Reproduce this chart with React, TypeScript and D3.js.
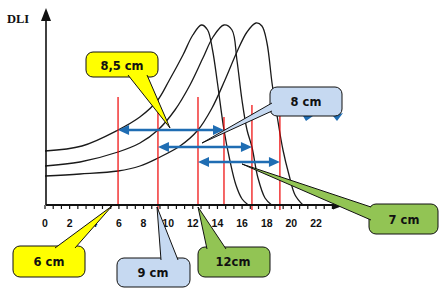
import React from "react";
import * as d3 from "d3";

// ---- data (x in cm, y in DLI units) ----
const xTickLabels = [0, 2, 4, 6, 8, 10, 12, 14, 16, 18, 20, 22];
const curveA: [number, number][] = [[0, 10.8], [3, 11.8], [5.93, 15], [7.7, 17.6], [9.1, 20.8], [10.1, 25], [11.2, 30], [12, 34], [12.7, 36], [13.2, 35], [13.6, 31], [14, 24.4], [14.53, 15], [15, 9], [15.5, 4], [16, 1.2], [16.5, 0]];
const curveB: [number, number][] = [[0, 7.8], [2.84, 8.6], [5.93, 10.6], [7.71, 12.4], [9.17, 15], [10.55, 19], [11.77, 24], [12.82, 29.4], [13.64, 33.6], [14.53, 36], [15.18, 35], [15.58, 29], [15.99, 21], [16.4, 15], [16.8, 11.6], [17.29, 5.4], [17.86, 1.4], [18.4, 0]];
const curveC: [number, number][] = [[0, 5.8], [2.84, 6.2], [5.93, 6.8], [7.71, 7.8], [9.17, 9.4], [10.96, 11.8], [12.42, 15], [13.56, 19.4], [14.61, 25], [15.58, 30.6], [16.4, 34.6], [17.13, 36.4], [17.61, 35.8], [18.02, 32.4], [18.43, 24.4], [18.83, 18], [19.32, 11], [19.81, 6], [20.3, 2], [20.94, 0]];
const arrowLevels = [15, 11.6, 8.6];
const arrowStarts = [5.93, 9.17, 12.42];
const arrowEnds = [14.53, 16.8, 19.07];
const markerX = [5.93, 9.17, 12.42, 14.53, 16.8, 19.07];
const markerTop = [21.6, 21, 21.6, 17.6, 20, 20.2];
const markerBottom = [0, -1, 0, 0, -1, -1];
const calloutLabels = ["8,5 cm", "8 cm", "6 cm", "9 cm", "12cm", "7 cm"];

// ---- layout / styles ----
const W = 447, H = 298;
const YELLOW = "#ffff00", BLUE = "#c6d9f1", GREEN = "#92c454";
const calloutLayout = [
  { x: 86, y: 52, w: 72, h: 25, fill: YELLOW, b1: [128, 75], b2: [147, 75], tip: [170, 128], tx: 122, ty: 70 },
  { x: 270, y: 87, w: 72, h: 29, fill: BLUE, b1: [272, 103], b2: [272, 111], tip: [202, 143], tx: 306, ty: 106 },
  { x: 13, y: 246, w: 72, h: 31, fill: YELLOW, b1: [55, 248], b2: [75, 248], tip: [112, 206], tx: 49, ty: 266 },
  { x: 117, y: 258, w: 73, h: 29, fill: BLUE, b1: [161, 260], b2: [178, 260], tip: [157, 207], tx: 153, ty: 277 },
  { x: 198, y: 247, w: 72, h: 30, fill: GREEN, b1: [207, 249], b2: [226, 249], tip: [198, 207], tx: 233, ty: 266 },
  { x: 369, y: 204, w: 69, h: 30, fill: GREEN, b1: [371, 207], b2: [371, 220], tip: [242, 164], tx: 404, ty: 224 },
];

const x = d3.scaleLinear().domain([0, 22]).range([45, 316]);
const y = d3.scaleLinear().domain([0, 39]).range([205, 10]);

const line = d3
  .line<[number, number]>()
  .x((d) => x(d[0]))
  .y((d) => y(d[1]))
  .curve(d3.curveCatmullRom.alpha(0.5));

const ARROW = "#1f6db3";

function dblArrow(x0: number, x1: number, yy: number, key: number) {
  const hl = 11, hw = 5;
  return (
    <g key={key}>
      <line x1={x0 + hl - 1} x2={x1 - hl + 1} y1={yy} y2={yy} stroke={ARROW} strokeWidth={2.6} />
      <polygon points={`${x0},${yy} ${x0 + hl},${yy - hw} ${x0 + hl},${yy + hw}`} fill={ARROW} />
      <polygon points={`${x1},${yy} ${x1 - hl},${yy - hw} ${x1 - hl},${yy + hw}`} fill={ARROW} />
    </g>
  );
}

export default function App() {
  const ticks = d3.range(0, 23.4, 2 / 3);
  const axisX0 = x(0) + 1;
  const axisY0 = y(0);
  return (
    <svg width={W} height={H} style={{ position: "absolute", left: 0, top: 0, background: "#fff" }}>
      <rect width={W} height={H} fill="#fff" />
      {/* curves */}
      {[curveA, curveB, curveC].map((c, i) => (
        <path key={i} d={line(c) || ""} fill="none" stroke="#1a1a1a" strokeWidth={1.3} />
      ))}
      {/* red marker lines */}
      {markerX.map((mx, i) => (
        <line key={i} x1={x(mx)} x2={x(mx)} y1={y(markerTop[i])} y2={y(markerBottom[i])} stroke="#ee0000" strokeWidth={1.2} />
      ))}
      {/* blue arrows */}
      {arrowLevels.map((lv, i) => dblArrow(x(arrowStarts[i]), x(arrowEnds[i]), y(lv), i))}
      {/* axes */}
      <line x1={axisX0} x2={axisX0} y1={axisY0} y2={18} stroke="#111" strokeWidth={1.6} />
      <polygon points={`${axisX0},8 ${axisX0 - 5},21 ${axisX0 + 5},21`} fill="#111" />
      <line x1={axisX0} x2={336} y1={axisY0} y2={axisY0} stroke="#111" strokeWidth={1.8} />
      <polygon points={`345,${axisY0} 333,${axisY0 - 4.5} 333,${axisY0 + 4.5}`} fill="#111" />
      {ticks.map((t, i) => (
        <line key={i} x1={x(t)} x2={x(t)} y1={axisY0} y2={axisY0 + 4} stroke="#111" strokeWidth={1.2} />
      ))}
      {xTickLabels.map((t) => (
        <text key={t} x={x(t)} y={227} textAnchor="middle" fontFamily="Liberation Sans, Arial, sans-serif" fontWeight="bold" fontSize={10.5} fill="#111">
          {t}
        </text>
      ))}
      <text x={7} y={23} fontFamily="Liberation Serif, Times New Roman, serif" fontWeight="bold" fontSize={12.5} fill="#111">
        DLI
      </text>
      {/* arrowheads peeking under 8 cm box */}
      <polygon points="303,116 313,116 306,121" fill={ARROW} />
      <polygon points="333,116 343,113 337,121" fill={ARROW} />
      {/* callouts */}
      {calloutLayout.map((c, i) => (
        <g key={i}>
          <rect x={c.x} y={c.y} width={c.w} height={c.h} rx={7} fill={c.fill} stroke="#111" strokeWidth={1} />
          <path d={`M${c.b1[0]},${c.b1[1]} L${c.tip[0]},${c.tip[1]} L${c.b2[0]},${c.b2[1]} Z`} fill={c.fill} stroke="none" />
          <path d={`M${c.b1[0]},${c.b1[1]} L${c.tip[0]},${c.tip[1]} L${c.b2[0]},${c.b2[1]}`} fill="none" stroke="#111" strokeWidth={1} />
          <text x={c.tx} y={c.ty} textAnchor="middle" fontFamily="DejaVu Sans, Verdana, sans-serif" fontWeight="bold" fontSize={11.5} fill="#111">
            {calloutLabels[i]}
          </text>
        </g>
      ))}
    </svg>
  );
}
